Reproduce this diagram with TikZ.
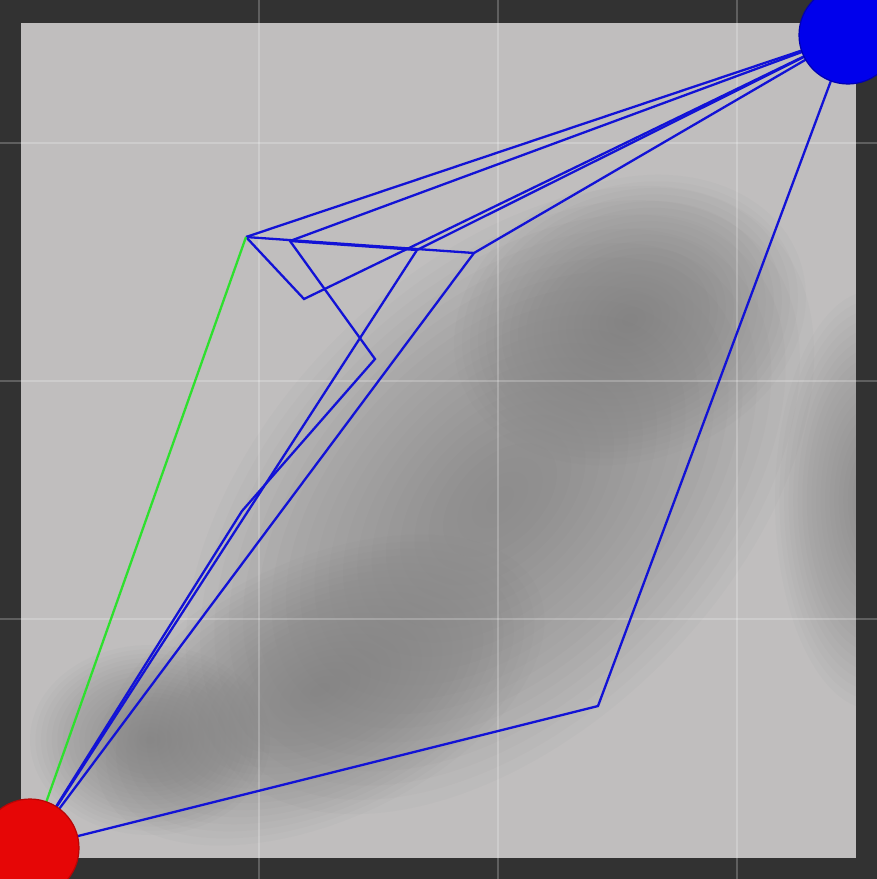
\documentclass[tikz,border=0pt]{standalone}
\usetikzlibrary{positioning}
\definecolor{frame}{HTML}{323232}
\definecolor{floor}{HTML}{C0BEBE}
\definecolor{dip}{HTML}{7A7A7A}
\definecolor{route}{HTML}{1212D6}
\definecolor{best}{HTML}{2EE02E}
\definecolor{red}{HTML}{E60606}
\definecolor{blue}{HTML}{0000EC}
\newcommand\blob[5]{\foreach \k in {1,...,22}
  \fill[dip,opacity=.045,rotate around={#5:(#1,#2)}] (#1,#2) ellipse ({#3*\k/22} and {#4*\k/22});}

\begin{document}
\begin{tikzpicture}[x=1pt,y=-1pt,
    trail/.style={draw=route,line width=2.3pt,line join=miter},
    chosen/.style={draw=best,line width=2.3pt},
    ball/.style={circle,minimum size=98pt,inner sep=0pt,line width=1.2pt}]
    \useasboundingbox (0,0) rectangle (877,879);
    \clip (0,0) rectangle (877,879);
    \fill[frame] (0,0) rectangle (877,879);
    \fill[floor] (21,23) rectangle (856,858);
    \begin{scope}
      \clip (21,23) rectangle (856,858);
      \blob{500}{500}{380}{230}{45}
      \blob{630}{320}{180}{140}{20}
      \blob{320}{690}{240}{130}{25}
      \blob{875}{500}{100}{210}{0}
      \blob{150}{740}{120}{95}{0}
    \end{scope}
    \foreach \x in {259,498,737} \draw[white,opacity=.22,line width=1.2pt] (\x,0) -- (\x,879);
    \foreach \y in {143,381,619} \draw[white,opacity=.22,line width=1.2pt] (0,\y) -- (877,\y);
    \coordinate (s) at (30,848);
    \coordinate (g) at (848,35);
    \coordinate (w1) at (246,237);
    \coordinate (w2) at (290,241);
    \coordinate (w3) at (304,299);
    \coordinate (w4) at (474,253);
    \coordinate (w5) at (417,250);
    \coordinate (w6) at (375,359);
    \coordinate (w7) at (242,511);
    \coordinate (w8) at (598,706);
    \draw[trail] (s) -- (w8) -- (g);
    \draw[trail] (s) -- (w4) -- (g);
    \draw[trail] (s) -- (w7) -- (w6) -- (w2) -- (g);
    \draw[trail] (s) -- (w5) -- (g);
    \draw[trail] (w1) -- (g);
    \draw[trail] (w1) -- (w3) -- (g);
    \draw[trail] (w1) -- (w4);
    \draw[trail] (w2) -- (w5);
    \draw[chosen] (s) -- (w1);
    \node[ball,fill=red,draw=red!80!black] (start) at (s) {};
    \node[ball,fill=blue,draw=blue!75!black] (goal) at (g) {};
  \end{tikzpicture}
\end{document}
